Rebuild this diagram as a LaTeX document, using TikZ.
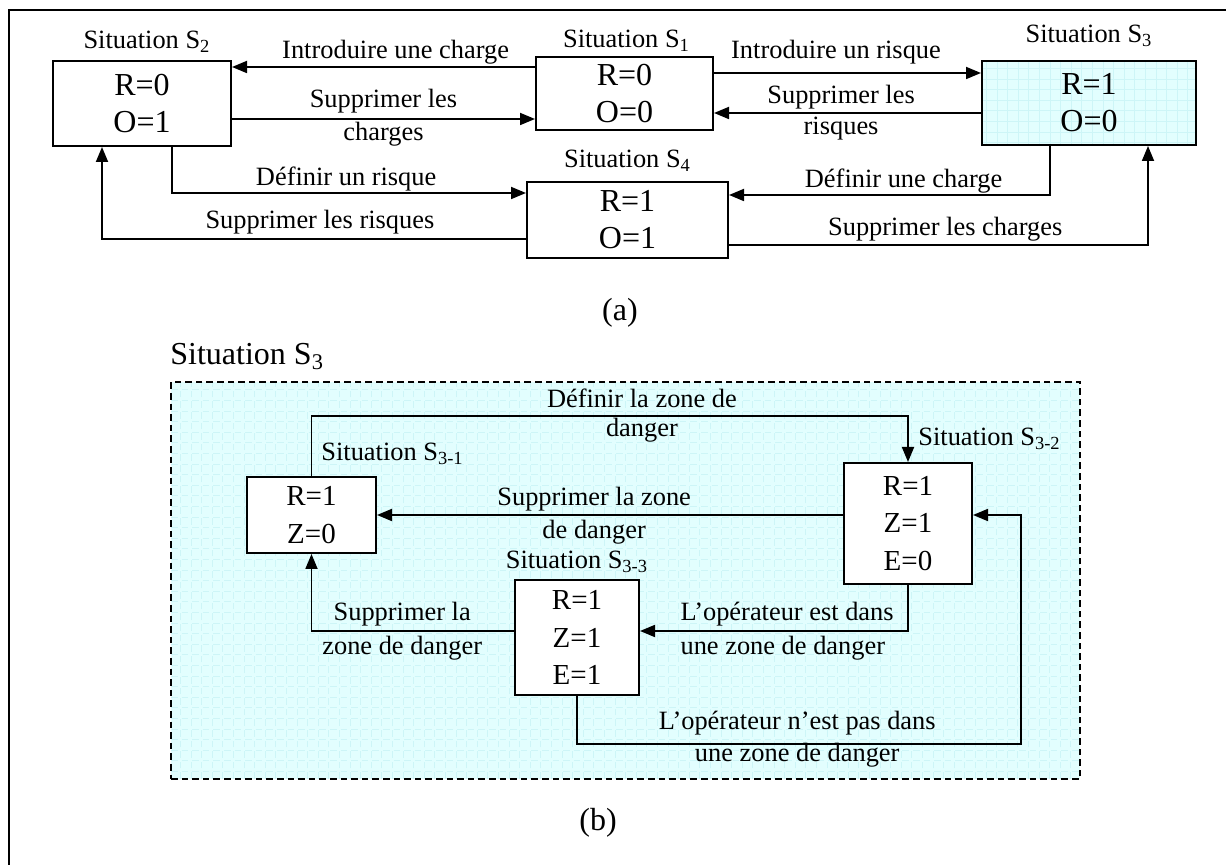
\documentclass[tikz,border=0pt]{standalone}
\usepackage{fontspec}
\setmainfont{Liberation Serif}
\usepackage{tikz}
\usetikzlibrary{arrows.meta, positioning}

\definecolor{zonecyan}{HTML}{E2FEFE}
\definecolor{gridcyan}{HTML}{CDF5F7}

\newcommand{\lblfont}{\fontsize{13.2pt}{15.5pt}\selectfont}
\newcommand{\boxfonta}{\fontsize{16pt}{18.5pt}\selectfont}
\newcommand{\boxfontb}{\fontsize{14.5pt}{18.75pt}\selectfont}
\newcommand{\headfont}{\fontsize{16pt}{19pt}\selectfont}

\begin{document}
\begin{tikzpicture}[
        x=0.5pt, y=-0.5pt,
        statebox/.style={draw, line width=1pt, fill=white, align=center, inner sep=0pt, font=\boxfonta},
        stateboxb/.style={statebox, font=\boxfontb},
        sitlabel/.style={inner sep=0pt, font=\lblfont},
        lbl/.style={inner sep=0pt, font=\lblfont},
        cyanfill/.style={fill=zonecyan, path picture={\draw[gridcyan, line width=0.3pt, step=5.3pt] (path picture bounding box.south west) grid (path picture bounding box.north east);}},
        zone/.style={draw, line width=1pt, dash pattern=on 3.3pt off 2pt, cyanfill},
        arrow/.style={-{Triangle[length=7.5pt, width=6pt]}, line width=0.9pt}
    ]
        \useasboundingbox (0,0) rectangle (1226,865);
        \draw[line width=1.3pt] (9,865) -- (9,10) -- (1226,10);

        % Nodes (a)
            \node[statebox, minimum width=89pt, minimum height=42.5pt] (s2) at (142,103.5) {R=0\\O=1};
            \node[statebox, minimum width=88.5pt, minimum height=36.5pt] (s1) at (624.5,93.5) {R=0\\O=0};
            \node[statebox, cyanfill, minimum width=107pt, minimum height=42pt] (s3) at (1089,103) {R=1\\O=0};
            \node[statebox, minimum width=100.5pt, minimum height=38pt] (s4) at (627.5,220) {R=1\\O=1};
            \node[sitlabel, above=3.5pt of s2, xshift=2.5pt] (s2lbl) {Situation S\textsubscript{2}};
            \node[sitlabel, above=2pt of s1, xshift=1pt] (s1lbl) {Situation S\textsubscript{1}};
            \node[sitlabel, above=6.5pt of s3] (s3lbl) {Situation S\textsubscript{3}};
            \node[sitlabel, above=4.5pt of s4] (s4lbl) {Situation S\textsubscript{4}};
            \node[font=\headfont] (capa) at (620,313) {(a)};

            % Arrows (a)
            \draw[arrow] ([yshift=13.25pt]s1.west) -- ([yshift=18.25pt]s2.east)
                node[lbl, pos=0.46, above=1pt] {Introduire une charge};
            \draw[arrow] ([yshift=-7.75pt]s2.east) -- ([yshift=-12.75pt]s1.west)
                node[lbl, midway, above=2.5pt] {Supprimer les}
                node[lbl, midway, below=1pt] {charges};
            \draw[arrow] ([yshift=10.25pt]s1.east) -- ([yshift=15pt]s3.west)
                node[lbl, pos=0.457, above=4pt] {Introduire un risque};
            \draw[arrow] ([yshift=-5pt]s3.west) -- ([yshift=-9.75pt]s1.east)
                node[lbl, pos=0.524, above=1.5pt] {Supprimer les}
                node[lbl, pos=0.524, below=1.5pt] {risques};
            \draw[arrow] ([xshift=15pt]s2.south) |- ([yshift=13.5pt]s4.west)
                node[lbl, pos=0.746, above=0.5pt] {Définir un risque};
            \draw[arrow] ([yshift=-9.5pt]s4.west) -| ([xshift=-20pt]s2.south)
                node[lbl, pos=0.243, above=2pt] {Supprimer les risques};
            \draw[arrow] ([xshift=-19.5pt]s3.south) |- ([yshift=12.5pt]s4.east)
                node[lbl, pos=0.728, above=0.5pt] {Définir une charge};
            \draw[arrow] ([yshift=-12.5pt]s4.east) -| ([xshift=29.5pt]s3.south)
                node[lbl, pos=0.258, above=1.5pt] {Supprimer les charges};

        % Nodes (b)
            \node[zone, minimum width=454.5pt, minimum height=198.5pt] (zoneb) at (625.5,580.5) {};
            \node[inner sep=0pt, font=\headfont, above right=5.5pt and 0pt of zoneb.north west] (zonelbl) {Situation S\textsubscript{3}};
            \node[stateboxb, minimum width=64.5pt, minimum height=38pt] (s31) at (311.5,515) {R=1\\Z=0};
            \node[stateboxb, minimum width=64pt, minimum height=60.5pt] (s32) at (908,523.5) {R=1\\Z=1\\E=0};
            \node[stateboxb, minimum width=62pt, minimum height=57.5pt] (s33) at (577,637.5) {R=1\\Z=1\\E=1};
            \node[sitlabel, above right=5.5pt and 4.75pt of s31.north] (s31lbl) {Situation S\textsubscript{3-1}};
            \node[sitlabel, above right=6pt and 5pt of s32.north] (s32lbl) {Situation S\textsubscript{3-2}};
            \node[sitlabel, above=3pt of s33] (s33lbl) {Situation S\textsubscript{3-3}};
            \node[font=\headfont] (capb) at (598,823) {(b)};

            % Arrows (b)
            \draw[arrow] (s31.north) -- ++(0,-60) -|
                node[lbl, pos=0.277, above=3.5pt] {Définir la zone de}
                node[lbl, pos=0.277, below=0.5pt] {danger} (s32.north);
            \draw[arrow] ([yshift=4.25pt]s32.west) -- (s31.east)
                node[lbl, pos=0.534, above=1.5pt] {Supprimer la zone}
                node[lbl, pos=0.534, below=2pt] {de danger};
            \draw[arrow] ([yshift=3.25pt]s33.west) -| (s31.south)
                node[lbl, pos=0.276, above=2pt] {Supprimer la}
                node[lbl, pos=0.276, below=2pt] {zone de danger};
            \draw[arrow] (s32.south) |- ([yshift=3.25pt]s33.east)
                node[lbl, pos=0.926, anchor=south west, yshift=2pt] {L’opérateur est dans}
                node[lbl, pos=0.926, anchor=north west, yshift=-2pt] {une zone de danger};
            \draw[arrow] (s33.south) -- ++(0,48) -|
                node[lbl, pos=0.248, above=4pt] {L’opérateur n’est pas dans}
                node[lbl, pos=0.248, below=-1pt] {une zone de danger} ([xshift=24pt, yshift=4.25pt]s32.east)
                -- ([yshift=4.25pt]s32.east);
    \end{tikzpicture}
\end{document}
